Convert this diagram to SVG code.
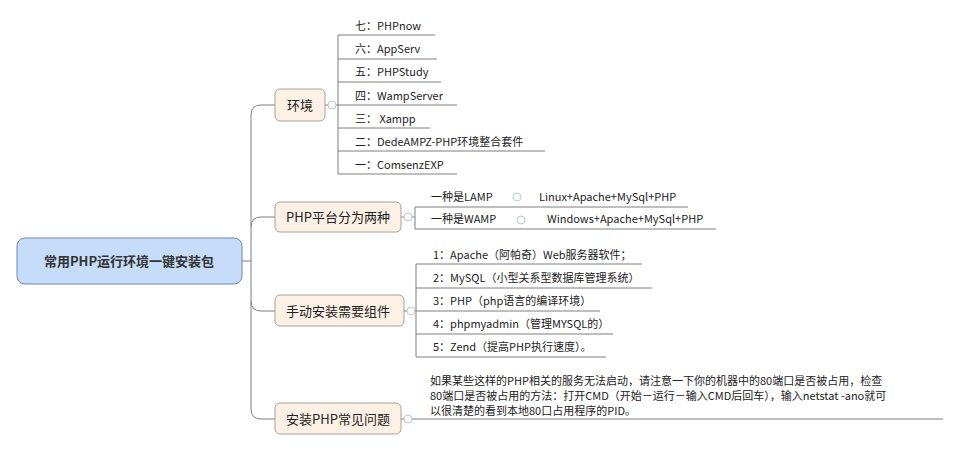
<svg xmlns="http://www.w3.org/2000/svg" width="959" height="451" viewBox="0 0 959 451">
<style>
text{font-family:"Noto Sans CJK SC","Liberation Sans",sans-serif;fill:#222}
.t{font-size:11px}
.b{font-size:13px}
.br{fill:#fdf1e6;stroke:#a8a098;stroke-width:1}
.ln{fill:none;stroke:#7f7f7f;stroke-width:1}
.c{fill:#fff;stroke:#b8c8dc;stroke-width:1}
</style>
<rect width="959" height="451" fill="#fff"/>
<g id="connectors">
<path class="ln" d="M242 261H251M251 115Q251 105 261 105H275M251 227Q251 217 261 217H275M251 301Q251 311 261 311H275M251 409Q251 419 261 419H275M251 115V409"/>
<path class="ln" d="M325 105H338M338 35V174M338 35H435M338 59H437M338 82H441M338 105H457M338 128H430M338 151H545M338 174H457"/>
<path class="ln" d="M401 217H415M415 207V229M415 207H688M415 229H716"/>
<path class="ln" d="M404 311H416M416 264V357M416 264H642M416 288H652M416 311H600M416 334H613M416 357H606"/>
<path class="ln" d="M401 419H943"/>
<circle class="c" cx="332" cy="105" r="4"/><circle class="c" cx="408" cy="217" r="4"/><circle class="c" cx="411" cy="311" r="4"/><circle class="c" cx="408" cy="419" r="4"/>
<circle class="c" cx="517" cy="197" r="4"/><circle class="c" cx="521" cy="220" r="4"/>
</g>
<g id="root"><rect x="17" y="238" width="225" height="46" rx="8" fill="#c5dcfa" stroke="#6a88b0"/><text x="129" y="266" text-anchor="middle" font-size="13" font-weight="bold" style="fill:#333">常用PHP运行环境一键安装包</text></g>
<g id="env"><rect class="br" x="275" y="89" width="50" height="32" rx="5"/><text class="b" x="287" y="110">环境</text></g>
<g id="plat"><rect class="br" x="275" y="202" width="126" height="30" rx="5"/><text class="b" x="286" y="222">PHP平台分为两种</text></g>
<g id="manual"><rect class="br" x="275" y="295" width="129" height="31" rx="5"/><text class="b" x="286" y="316">手动安装需要组件</text></g>
<g id="faq"><rect class="br" x="275" y="403" width="126" height="31" rx="5"/><text class="b" x="286" y="424">安装PHP常见问题</text></g>
<g id="env-items" class="t">
<text class="t" x="355" y="30">七：PHPnow</text>
<text class="t" x="355" y="53">六：AppServ</text>
<text class="t" x="355" y="76">五：PHPStudy</text>
<text class="t" x="355" y="100">四：WampServer</text>
<text class="t" x="355" y="123">三： Xampp</text>
<text class="t" x="355" y="146">二：DedeAMPZ-PHP环境整合套件</text>
<text class="t" x="355" y="169">一：ComsenzEXP</text>
</g>
<g id="plat-items">
<text class="t" x="431" y="201">一种是LAMP</text><text class="t" x="539" y="201">Linux+Apache+MySql+PHP</text>
<text class="t" x="431" y="223">一种是WAMP</text><text class="t" x="547" y="223">Windows+Apache+MySql+PHP</text>
</g>
<g id="manual-items">
<text class="t" x="433" y="259">1：Apache（阿帕奇）Web服务器软件；</text>
<text class="t" x="433" y="282">2：MySQL（小型关系型数据库管理系统）</text>
<text class="t" x="433" y="305">3：PHP（php语言的编译环境）</text>
<text class="t" x="433" y="328">4：phpmyadmin（管理MYSQL的）</text>
<text class="t" x="433" y="351">5：Zend（提高PHP执行速度）。</text>
</g>
<g id="faq-text">
<text class="t" x="430" y="385">如果某些这样的PHP相关的服务无法启动，请注意一下你的机器中的80端口是否被占用，检查</text>
<text class="t" x="430" y="400">80端口是否被占用的方法：打开CMD（开始－运行－输入CMD后回车），输入netstat -ano就可</text>
<text class="t" x="430" y="415">以很清楚的看到本地80口占用程序的PID。</text>
</g>
</svg>
